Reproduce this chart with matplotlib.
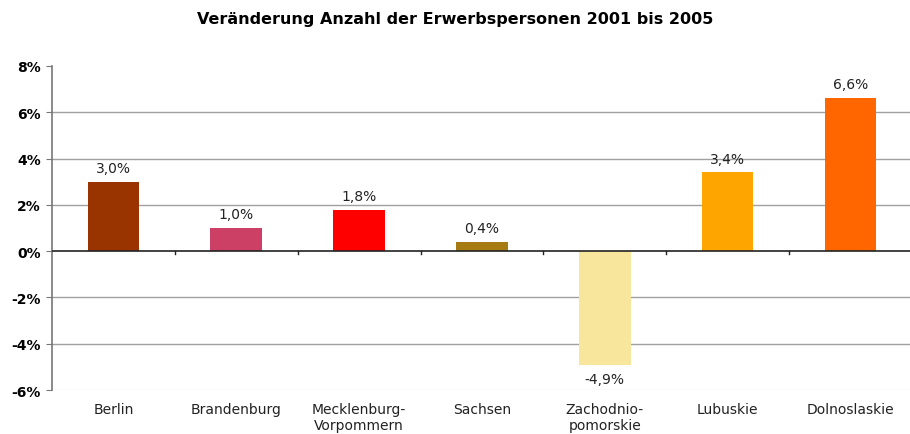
import matplotlib.pyplot as plt
import numpy as np

# data
regions = ['Berlin', 'Brandenburg', 'Mecklenburg-\nVorpommern', 'Sachsen',
           'Zachodnio-\npomorskie', 'Lubuskie', 'Dolnoslaskie']
change = [3.0, 1.0, 1.8, 0.4, -4.9, 3.4, 6.6]
colors = ['#993300', '#CC4066', '#FF0000', '#A67C12', '#F8E69C', '#FFA500', '#FF6600']

plt.rcParams['font.family'] = ['DejaVu Sans']

fig = plt.figure(figsize=(9.1, 4.35), dpi=100)
ax = fig.add_axes([0.0571, 0.101, 0.945, 0.745])

x = np.arange(len(regions))
ax.bar(x, change, width=0.42, color=colors, zorder=3)

# value labels
for xi, v in zip(x, change):
    txt = ('%.1f%%' % v).replace('.', ',')
    if v >= 0:
        ax.text(xi, v + 0.3, txt, ha='center', va='bottom', fontsize=10, color='#222222')
    else:
        ax.text(xi, v - 0.3, txt, ha='center', va='top', fontsize=10, color='#222222')

ax.set_xlim(-0.5, len(regions) - 0.5)
ax.set_ylim(-6, 8)
ax.set_yticks(np.arange(-6, 9, 2))
ax.set_yticklabels(['%d%%' % t for t in range(-6, 9, 2)], fontsize=10, fontweight='bold')

# gridlines
for t in range(-4, 8, 2):
    if t != 0:
        ax.axhline(t, color='#a0a0a0', lw=1, zorder=1)
ax.axhline(-6, color='#e6e6e6', lw=1, zorder=1)
ax.axhline(0, color='#222222', lw=1.2, zorder=4)

# ticks between categories on zero line
for b in np.arange(0.5, len(regions) - 0.5, 1):
    ax.plot([b, b], [0, -0.12], color='#222222', lw=1, zorder=4, clip_on=False)

for s in ['top', 'right', 'bottom']:
    ax.spines[s].set_visible(False)
ax.spines['left'].set_color('#777777')
ax.spines['left'].set_linewidth(1.2)
ax.tick_params(axis='y', length=4, color='#777777', pad=4)

ax.set_xticks(x)
ax.set_xticklabels(regions, fontsize=10, color='#222222')
ax.tick_params(axis='x', length=0, pad=8.5)
for lbl in ax.get_xticklabels():
    lbl.set_linespacing(1.2)

fig.text(0.5, 0.955, 'Veränderung Anzahl der Erwerbspersonen 2001 bis 2005',
         ha='center', va='center', fontsize=11.5, fontweight='bold')

fig.savefig('out.png', dpi=100)
